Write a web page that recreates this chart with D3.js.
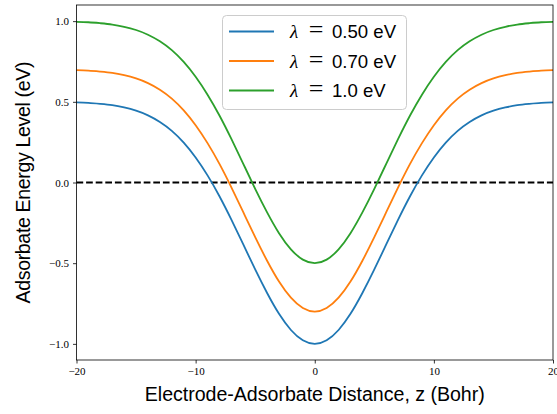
<!DOCTYPE html>
<html>
<head>
<meta charset="utf-8">
<script src="https://cdn.jsdelivr.net/npm/d3@7"></script>
<style>
  body { margin: 0; background: #fff; }
  svg { display: block; }
</style>
</head>
<body>
<div id="chart"></div>
<script>
// distance z (Bohr), -20..20 step 1
const zValues = d3.range(-20, 21, 1);

// adsorbate level for each lambda
const blueVals = [0.496, 0.493, 0.487, 0.479, 0.465, 0.445, 0.416, 0.375, 0.320, 0.247, 0.155, 0.044, -0.085, -0.230, -0.384, -0.539, -0.685, -0.814, -0.914, -0.978, -1.000, -0.978, -0.914, -0.814, -0.685, -0.539, -0.384, -0.230, -0.085, 0.044, 0.155, 0.247, 0.320, 0.375, 0.416, 0.445, 0.465, 0.479, 0.487, 0.493, 0.496];
const orangeVals = [0.696, 0.693, 0.687, 0.679, 0.665, 0.645, 0.616, 0.575, 0.520, 0.447, 0.355, 0.244, 0.115, -0.030, -0.184, -0.339, -0.485, -0.614, -0.714, -0.778, -0.800, -0.778, -0.714, -0.614, -0.485, -0.339, -0.184, -0.030, 0.115, 0.244, 0.355, 0.447, 0.520, 0.575, 0.616, 0.645, 0.665, 0.679, 0.687, 0.693, 0.696];
const greenVals = [0.996, 0.993, 0.987, 0.979, 0.965, 0.945, 0.916, 0.875, 0.820, 0.747, 0.655, 0.544, 0.415, 0.270, 0.116, -0.039, -0.185, -0.314, -0.414, -0.478, -0.500, -0.478, -0.414, -0.314, -0.185, -0.039, 0.116, 0.270, 0.415, 0.544, 0.655, 0.747, 0.820, 0.875, 0.916, 0.945, 0.965, 0.979, 0.987, 0.993, 0.996];

const seriesNames = ["0.50", "0.70", "1.0"];
const seriesColors = ["#1f77b4", "#ff7f0e", "#2ca02c"];
const xTicks = [-20, -10, 0, 10, 20];
const yTicks = [-1.0, -0.5, 0.0, 0.5, 1.0];

const width = 557, height = 414;
const margin = {top: 5, right: 4, bottom: 54, left: 76.5};
const sans = "'Liberation Sans', sans-serif";
const serif = "'Liberation Serif', serif";

const svg = d3.select("#chart").append("svg")
  .attr("width", width)
  .attr("height", height);

const x = d3.scaleLinear().domain([-20, 20]).range([margin.left, width - margin.right]);
const y = d3.scaleLinear().domain([-1.1, 1.1]).range([height - margin.bottom, margin.top]);

const minus = s => s.replace("-", "\u2212");

// zero line
svg.append("line")
  .attr("x1", x(-20)).attr("x2", x(20))
  .attr("y1", y(0)).attr("y2", y(0))
  .attr("stroke", "#000")
  .attr("stroke-width", 1.8)
  .attr("stroke-dasharray", "6.7,2.9");

const line = d3.line()
  .x((d, i) => x(zValues[i]))
  .y(d => y(d))
  .curve(d3.curveNatural);

const allSeries = [blueVals, orangeVals, greenVals];
allSeries.forEach((vals, i) => {
  svg.append("path")
    .datum(vals)
    .attr("fill", "none")
    .attr("stroke", seriesColors[i])
    .attr("stroke-width", 1.8)
    .attr("d", line);
});

// axes
const xAxis = svg.append("g")
  .attr("transform", `translate(0,${height - margin.bottom})`)
  .call(d3.axisBottom(x).tickValues(xTicks).tickSize(3.5).tickPadding(4)
    .tickFormat(d => minus(d3.format("d")(d))));

const yAxis = svg.append("g")
  .attr("transform", `translate(${margin.left},0)`)
  .call(d3.axisLeft(y).tickValues(yTicks).tickSize(3.5).tickPadding(4)
    .tickFormat(d => minus(d3.format(".1f")(d))));

[xAxis, yAxis].forEach(g => {
  g.select(".domain").remove();
  g.selectAll("line").attr("stroke", "#000").attr("stroke-width", 0.8);
  g.selectAll("text")
    .attr("font-family", serif)
    .attr("font-size", 11)
    .attr("fill", "#000");
});

// frame
svg.append("rect")
  .attr("x", margin.left)
  .attr("y", margin.top)
  .attr("width", width - margin.left - margin.right)
  .attr("height", height - margin.top - margin.bottom)
  .attr("fill", "none")
  .attr("stroke", "#000")
  .attr("stroke-width", 0.8);

// labels
svg.append("text")
  .attr("x", x(0))
  .attr("y", 401)
  .attr("text-anchor", "middle")
  .attr("font-family", sans)
  .attr("font-size", 19.6)
  .attr("textLength", 340)
  .text("Electrode-Adsorbate Distance, z (Bohr)");

svg.append("text")
  .attr("transform", `translate(30,${y(0)}) rotate(-90)`)
  .attr("text-anchor", "middle")
  .attr("font-family", sans)
  .attr("font-size", 19.6)
  .attr("textLength", 242)
  .text("Adsorbate Energy Level (eV)");

// legend
const legend = svg.append("g");
legend.append("rect")
  .attr("x", 222.5).attr("y", 15.5)
  .attr("width", 184).attr("height", 94)
  .attr("rx", 4)
  .attr("fill", "#fff").attr("fill-opacity", 0.8)
  .attr("stroke", "#ccc").attr("stroke-width", 1);

seriesNames.forEach((name, i) => {
  const ly = 31.5 + i * 29.5;
  const base = ly + 6.8;
  legend.append("line")
    .attr("x1", 229).attr("x2", 274)
    .attr("y1", ly).attr("y2", ly)
    .attr("stroke", seriesColors[i])
    .attr("stroke-width", 1.8);
  legend.append("text")
    .attr("x", 290).attr("y", base)
    .attr("font-family", serif).attr("font-style", "italic")
    .attr("font-size", 19)
    .text("\u03bb");
  legend.append("text")
    .attr("x", 316).attr("y", base)
    .attr("text-anchor", "middle")
    .attr("font-family", serif)
    .attr("font-size", 26)
    .attr("textLength", 16)
    .text("=");
  const num = legend.append("text")
    .attr("x", 332).attr("y", base)
    .attr("font-family", sans)
    .attr("font-size", 18.6)
    .text(name + " eV");
});
</script>
</body>
</html>
